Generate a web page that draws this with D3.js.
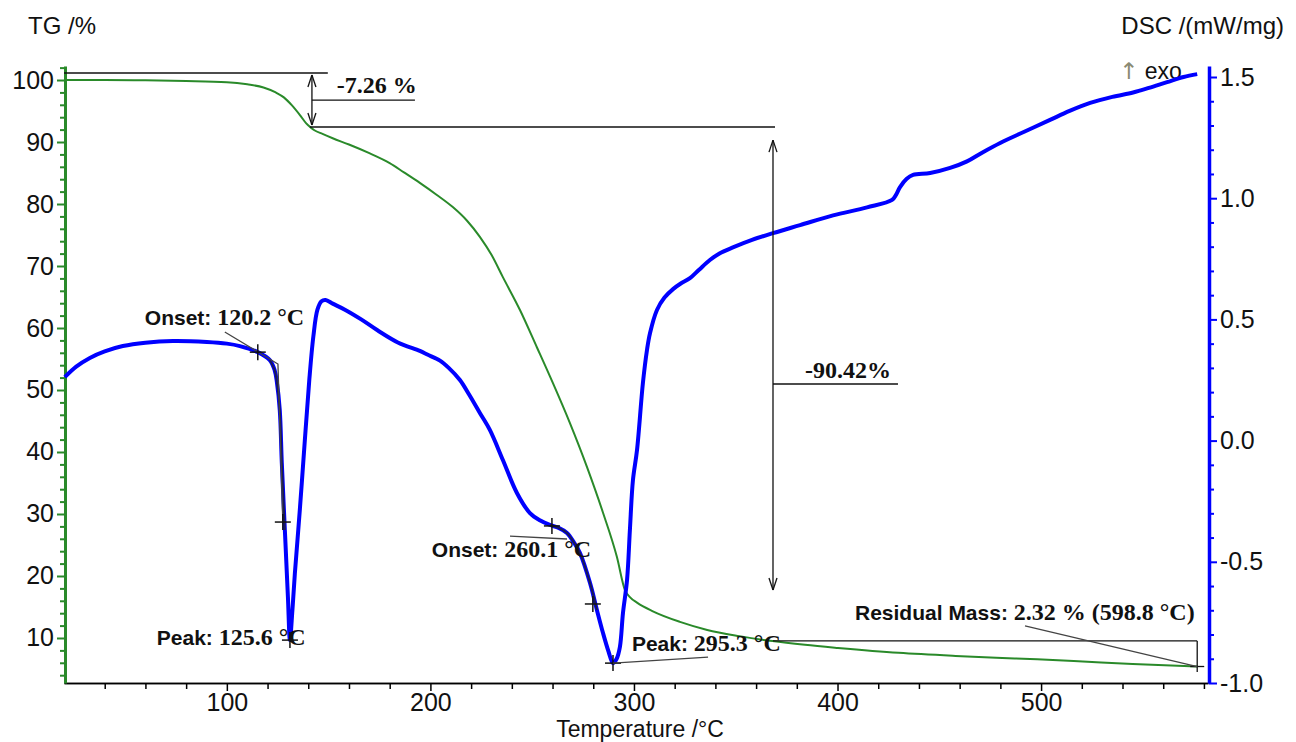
<!DOCTYPE html>
<html>
<head>
<meta charset="utf-8">
<script src="https://cdn.jsdelivr.net/npm/d3@7"></script>
<style>
  body { margin: 0; background: #fff; }
  svg { display: block; }
  .tick text { font-family: "Liberation Sans", Arial, sans-serif; font-size: 25px; fill: #111; }
  .lbl-sans { font-family: "Liberation Sans", Arial, sans-serif; font-weight: bold; font-size: 21px; fill: #111; }
  .lbl-serif { font-family: "Liberation Serif", "Times New Roman", serif; font-weight: bold; font-size: 24px; fill: #111; }
  .title { font-family: "Liberation Sans", Arial, sans-serif; font-size: 24px; fill: #111; }
</style>
</head>
<body>
<div id="chart-area"></div>
<script>

// SVG drawing area
var width = 1296,
    height = 742;

var svg = d3.select("#chart-area").append("svg")
    .attr("width", width)
    .attr("height", height);

// TG curve (temperature /°C, mass /%)
var tgTemp = [20, 40, 60, 80, 100, 110, 118, 124, 128, 132, 136, 139, 141, 143, 147, 152, 160, 170, 180, 187,
    194.8, 203, 211, 218, 224.3, 230, 235.6, 244, 252.3, 260.2, 268.5, 276.9, 284.8, 291.6, 295.6, 298, 301.5,
    309.3, 322.6, 336, 351.8, 368, 384, 400.2, 430, 458, 487, 516, 545, 576.7];
var tgMass = [100.0, 100.0, 99.95, 99.85, 99.65, 99.3, 98.8, 98.0, 97.2, 95.9, 94.3, 93.0, 92.4, 91.9, 91.3, 90.6, 89.6, 88.2, 86.6, 85.1,
    83.4, 81.5, 79.5, 77.3, 74.7, 71.8, 68.2, 62.9, 56.9, 51.1, 44.7, 37.6, 30.2, 23.1, 17.7, 16.6, 15.7,
    14.3, 12.6, 11.3, 10.3, 9.5, 8.9, 8.4, 7.6, 7.1, 6.7, 6.3, 5.8, 5.4];

// DSC curve (temperature /°C, heat flow /(mW/mg))
var dscTemp = [20.4, 26, 32.7, 40, 48.9, 60, 73.5, 90.2, 100, 106.4, 115.2, 121.1, 123.5, 124.6, 126, 127, 128.5, 130, 131,
    132.2, 133.4, 135.9, 138.3, 140.5, 142.5, 144.5, 146.5, 148.5, 152, 158, 166, 174, 184, 194.8, 198.5, 204.7,
    209, 214.5, 219, 224.3, 229.2, 235.6, 242.5, 248.9, 254, 258.7, 263, 267.1, 270.5, 273.5, 278.4, 281.8,
    284.8, 287.5, 289.7, 291.5, 293.1, 294.6, 296.6, 298, 299.5, 301.5, 304.4, 306.4, 307.9, 311.3, 315, 319.2,
    323, 327.5, 332, 337.3, 342, 348.6, 358, 368.3, 381.6, 397.8, 414.5, 426.8, 428.8, 430.7, 434, 437.1,
    445.5, 455.3, 463.6, 471, 479.9, 492, 504.4, 514, 524.1, 535, 545.2, 553, 561.9, 570, 576.7];
var dscHeat = [0.262, 0.305, 0.341, 0.368, 0.390, 0.404, 0.411, 0.407, 0.400, 0.390, 0.365, 0.332, 0.29, 0.24, 0.126, -0.092, -0.369, -0.645, -0.823,
    -0.70, -0.55, -0.28, 0.0, 0.25, 0.43, 0.54, 0.575, 0.58, 0.565, 0.54, 0.50, 0.455, 0.405, 0.37, 0.355, 0.33,
    0.30, 0.25, 0.19, 0.114, 0.044, -0.08, -0.216, -0.299, -0.33, -0.348, -0.36, -0.381, -0.42, -0.464, -0.587, -0.699,
    -0.794, -0.87, -0.918, -0.90, -0.851, -0.711, -0.575, -0.369, -0.163, -0.039, 0.238, 0.374, 0.444, 0.539, 0.590, 0.625,
    0.648, 0.670, 0.705, 0.745, 0.772, 0.797, 0.828, 0.856, 0.889, 0.929, 0.962, 0.993, 1.015, 1.046, 1.08, 1.096,
    1.104, 1.125, 1.152, 1.188, 1.228, 1.275, 1.323, 1.36, 1.393, 1.418, 1.436, 1.455, 1.479, 1.50, 1.512];

// Tick labels
var tempTicks = [100, 200, 300, 400, 500];
var tgTicks = [10, 20, 30, 40, 50, 60, 70, 80, 90, 100];
var dscTicks = [-1.0, -0.5, 0.0, 0.5, 1.0, 1.5];

// Scales
var x = d3.scaleLinear().domain([20, 582]).range([64, 1208]);
var yTG = d3.scaleLinear().domain([2.74, 102.26]).range([683, 66]);
var yDSC = d3.scaleLinear().domain([-1.0, 1.5454]).range([683, 66]);

var green = "#2a8a2a", blue = "#0000ff";

// Minor ticks
var tempMinor = d3.range(40, 581, 20).filter(function(d) { return d % 100 != 0; });
var tgMinor = d3.range(4, 103, 2).filter(function(d) { return d % 10 != 0; });
var dscMinor = d3.range(-9, 16, 1).map(function(d) { return d / 10; }).filter(function(d) { return Math.abs(d * 2 - Math.round(d * 2)) > 0.01; });

// Bottom axis
svg.append("g")
    .attr("transform", "translate(0,683)")
    .call(d3.axisBottom(x).tickValues(tempMinor).tickSize(6).tickSizeOuter(0).tickFormat(""))
    .call(function(g) { g.selectAll("line, path").attr("stroke", "#000").attr("stroke-width", 1.5); });
svg.append("g")
    .attr("transform", "translate(0,683)")
    .call(d3.axisBottom(x).tickValues(tempTicks).tickSize(8).tickSizeOuter(0).tickPadding(2))
    .call(function(g) { g.selectAll("line, path").attr("stroke", "#000").attr("stroke-width", 1.5); });

// TG axis (left, green)
svg.append("g")
    .attr("transform", "translate(65,0)")
    .call(d3.axisLeft(yTG).tickValues(tgMinor).tickSize(5).tickSizeOuter(0).tickFormat(""))
    .call(function(g) { g.selectAll("line").attr("stroke", green).attr("stroke-width", 2); g.select("path").remove(); });
svg.append("g")
    .attr("transform", "translate(65,0)")
    .call(d3.axisLeft(yTG).tickValues(tgTicks).tickSize(8).tickSizeOuter(0))
    .call(function(g) { g.selectAll("line").attr("stroke", green).attr("stroke-width", 2); g.select("path").attr("stroke", green).attr("stroke-width", 3); });

// DSC axis (right, blue)
svg.append("g")
    .attr("transform", "translate(1209,0)")
    .call(d3.axisRight(yDSC).tickValues(dscMinor).tickSize(5).tickSizeOuter(0).tickFormat(""))
    .call(function(g) { g.selectAll("line").attr("stroke", blue).attr("stroke-width", 2); g.select("path").remove(); });
svg.append("g")
    .attr("transform", "translate(1209,0)")
    .call(d3.axisRight(yDSC).tickValues(dscTicks).tickSize(8).tickSizeOuter(0)
        .tickFormat(function(d) { return d3.format(".1f")(d).replace("\u2212", "-"); }))
    .call(function(g) { g.selectAll("line").attr("stroke", blue).attr("stroke-width", 2); g.select("path").attr("stroke", blue).attr("stroke-width", 3.5); });

// Axis titles
svg.append("text").attr("class", "title").attr("x", 28).attr("y", 34).text("TG /%");
svg.append("text").attr("class", "title").attr("x", 1284).attr("y", 34).attr("text-anchor", "end").text("DSC /(mW/mg)");
svg.append("text").attr("class", "title").attr("x", 640).attr("y", 737).attr("text-anchor", "middle")
    .style("font-size", "23px").text("Temperature /°C");
var exo = svg.append("text").attr("class", "title").attr("x", 1119).attr("y", 79).style("font-size", "23px");
exo.append("tspan").attr("fill", "#8a8a72").style("font-family", "'DejaVu Sans', sans-serif").text("↑");
exo.append("tspan").text(" exo");

// Curves
var tgData = tgTemp.map(function(t, i) { return [t, tgMass[i]]; });
var dscData = dscTemp.map(function(t, i) { return [t, dscHeat[i]]; });

var tgLine = d3.line().curve(d3.curveMonotoneX)
    .x(function(d) { return x(d[0]); })
    .y(function(d) { return yTG(d[1]); });
var dscLine = d3.line().curve(d3.curveCatmullRom.alpha(0.5))
    .x(function(d) { return x(d[0]); })
    .y(function(d) { return yDSC(d[1]); });

svg.append("path").attr("d", tgLine(tgData))
    .attr("fill", "none").attr("stroke", green).attr("stroke-width", 2);

svg.append("path").attr("d", dscLine(dscData))
    .attr("fill", "none").attr("stroke", blue).attr("stroke-width", 4).attr("stroke-linejoin", "round");

// dark overlay where the onset tangents were fitted
[[121, 128.5], [258.7, 281.8]].forEach(function(r) {
    var seg = dscData.filter(function(d) { return d[0] >= r[0] && d[0] <= r[1]; });
    svg.append("path").attr("d", dscLine(seg))
        .attr("fill", "none").attr("stroke", "#1a1a55").attr("stroke-width", 2);
});

// Annotations
function seg(x1, y1, x2, y2, col, w) {
    svg.append("line").attr("x1", x1).attr("y1", y1).attr("x2", x2).attr("y2", y2)
        .attr("stroke", col || "#111").attr("stroke-width", w || 1.3);
}
function cross(t, v) {
    var cx = x(t), cy = yDSC(v);
    seg(cx - 8, cy, cx + 8, cy, "#111", 1.5);
    seg(cx, cy - 8, cx, cy + 8, "#111", 1.5);
}
function arrowHead(px, py, dir) {
    seg(px, py, px - 4, py - 12 * dir, "#111", 1.3);
    seg(px, py, px + 4, py - 12 * dir, "#111", 1.3);
}

// mass step 1
var step1Top = 101.13, step1Bot = 92.42, step1T = 141.8;
seg(x(20), yTG(step1Top), x(149.6), yTG(step1Top));
seg(x(140.8), yTG(step1Bot), x(369.3), yTG(step1Bot));
seg(x(step1T), yTG(step1Top) + 2, x(step1T), yTG(step1Bot) - 2);
arrowHead(x(step1T), yTG(step1Top) + 2, -1);
arrowHead(x(step1T), yTG(step1Bot) - 2, 1);
seg(x(step1T), yTG(96.77), x(192.4), yTG(96.77));
svg.append("text").attr("class", "lbl-serif").attr("x", x(154)).attr("y", yTG(97.9)).text("-7.26 %");

// mass step 2
var step2T = 368.3;
seg(x(step2T), yTG(90.3), x(step2T), yTG(17.74));
arrowHead(x(step2T), yTG(90.3), -1);
arrowHead(x(step2T), yTG(17.74), 1);
seg(x(step2T), yTG(50.97), x(429.7), yTG(50.97));
svg.append("text").attr("class", "lbl-serif").attr("x", x(384)).attr("y", yTG(51.9)).text("-90.42%");

// onset / peak 1
svg.append("path").attr("fill", "none").attr("stroke", "#444").attr("stroke-width", 1.3)
    .attr("d", d3.line()([[x(99), yDSC(0.448)], [x(125.1), yDSC(0.316)], [x(127.5), yDSC(-0.336)]]));
cross(115.2, 0.365);
cross(127.5, -0.336);
cross(131, -0.823);
var t1 = svg.append("text").attr("x", x(59.7)).attr("y", yTG(60.5));
t1.append("tspan").attr("class", "lbl-sans").text("Onset: ");
t1.append("tspan").attr("class", "lbl-serif").text("120.2 °C");
var p1 = svg.append("text").attr("x", x(65.6)).attr("y", yTG(8.87));
p1.append("tspan").attr("class", "lbl-sans").text("Peak: ");
p1.append("tspan").attr("class", "lbl-serif").text("125.6 °C");

// onset / peak 2
seg(x(239.1), yDSC(-0.394), x(267.1), yDSC(-0.406), "#444", 1.3);
cross(259.7, -0.352);
cross(279.8, -0.674);
cross(289.7, -0.918);
seg(x(289.7), yDSC(-0.918), x(336.4), yDSC(-0.893), "#444", 1.3);
var t2 = svg.append("text").attr("x", x(200.7)).attr("y", yTG(23.06));
t2.append("tspan").attr("class", "lbl-sans").text("Onset: ");
t2.append("tspan").attr("class", "lbl-serif").text("260.1 °C");
var p2 = svg.append("text").attr("x", x(299)).attr("y", yTG(7.9));
p2.append("tspan").attr("class", "lbl-sans").text("Peak: ");
p2.append("tspan").attr("class", "lbl-serif").text("295.3 °C");

// residual mass
var resT = 576.7, resTop = 9.52;
seg(x(368.3), yTG(resTop), x(resT), yTG(resTop));
seg(x(resT), yTG(resTop), x(resT), yTG(4.52));
seg(x(resT) - 7, yTG(5.4), x(resT) + 7, yTG(5.4));
seg(x(492.1), yTG(11.94), x(resT), yTG(5.4), "#444", 1.3);
var r1 = svg.append("text").attr("x", x(408.6)).attr("y", yTG(12.9));
r1.append("tspan").attr("class", "lbl-sans").text("Residual Mass: ");
r1.append("tspan").attr("class", "lbl-serif").text("2.32 % (598.8 °C)");

</script>
</body>
</html>
